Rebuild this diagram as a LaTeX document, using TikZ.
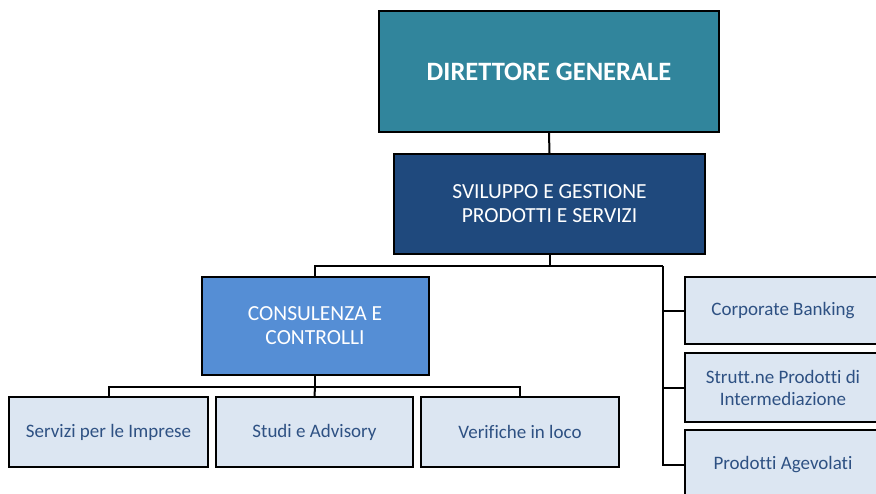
\documentclass[tikz,border=0pt]{standalone}
\usepackage{fontspec}
\setmainfont{Carlito}[Ligatures=CommonOff]
\definecolor{teal1}{HTML}{31859C}
\definecolor{navy1}{HTML}{1F497D}
\definecolor{mid1}{HTML}{558ED5}
\definecolor{light1}{HTML}{DCE6F2}
\definecolor{txt1}{HTML}{2E5183}
\tikzset{
  box/.style={draw=black, line width=2pt, rectangle, align=center, inner sep=0pt},
  dirbox/.style={box, fill=teal1, text=white, font=\fontsize{26.5}{30}\selectfont\bfseries},
  topbox/.style={box, fill=navy1, text=white, font=\fontsize{21.5}{24}\selectfont},
  midbox/.style={box, fill=mid1, text=white, font=\fontsize{21.5}{24}\selectfont},
  leaf/.style={box, fill=light1, text=txt1, font=\fontsize{19}{22}\selectfont},
  conn/.style={draw=black, line width=2pt}
}
\begin{document}
\begin{tikzpicture}[x=1pt,y=-1pt]
\useasboundingbox (0,0) rectangle (876,493);
\begin{scope}
\clip (0,0) rectangle (876,493);
\node[dirbox, minimum width=340pt, minimum height=121pt] (dir) at (549,71.5) {DIRETTORE GENERALE};
\node[topbox, minimum width=311pt, minimum height=100pt] (svil) at (549.5,204) {SVILUPPO E GESTIONE\\PRODOTTI E SERVIZI};
\node[midbox, minimum width=227pt, minimum height=98pt] (cons) at (315,326) {CONSULENZA E\\CONTROLLI};
\node[leaf, minimum width=199pt, minimum height=70pt] (b1) at (108.5,432) {Servizi per le Imprese};
\node[leaf, minimum width=197pt, minimum height=70pt] (b2) at (314.5,432) {Studi e Advisory};
\node[leaf, minimum width=198pt, minimum height=70pt] (b3) at (520,432) {Verifiche in loco};
\node[leaf, minimum width=196pt, minimum height=67pt] (r1) at (783,310.5) {Corporate Banking};
\node[leaf, minimum width=196pt, minimum height=69pt] (r2) at (783,387.5) {Strutt.ne Prodotti di\\Intermediazione};
\node[leaf, minimum width=196pt, minimum height=70pt] (r3) at (783,465) {Prodotti Agevolati};
\coordinate (j1) at (549.5,266);
\coordinate (rtop) at (663,266);
\coordinate (j2) at (315,387);
\draw[conn] (dir.south) -- (svil.north);
\draw[conn] (svil.south) -- (j1);
\draw[conn] (cons.north) |- (rtop);
\draw[conn] (rtop) |- (r1.west);
\draw[conn] (rtop) |- (r2.west);
\draw[conn] (rtop) |- (r3.west);
\draw[conn] (cons.south) -- (j2);
\draw[conn] (b1.north) |- (j2) -| (b3.north);
\draw[conn] (j2) -- (b2.north);
\end{scope}
\end{tikzpicture}
\end{document}
